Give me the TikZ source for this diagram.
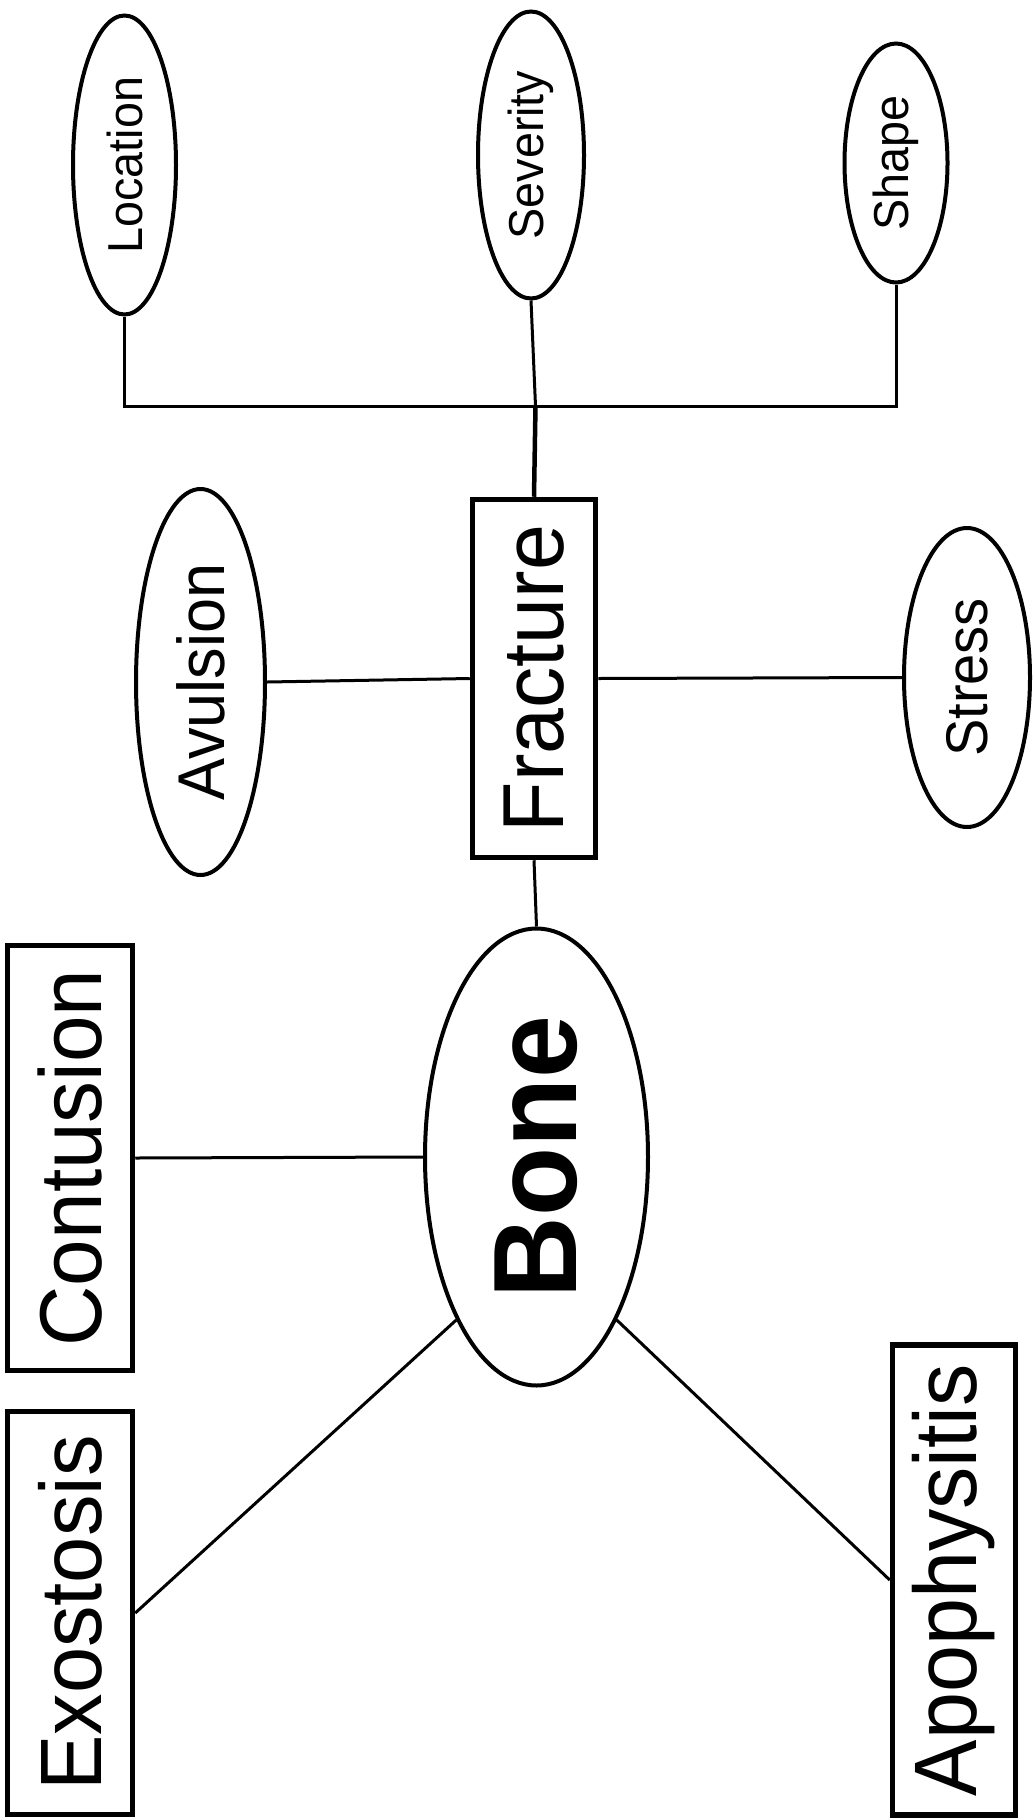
\documentclass[tikz,border=0pt]{standalone}
\usepackage{graphicx}
\usepackage{fontspec}
\setmainfont{Liberation Sans}
\usepackage{tikz}
\usetikzlibrary{shapes}

\newcommand{\uptext}[2]{\rotatebox{90}{\scalebox{1}[1.05]{\fontsize{#1}{#1}\selectfont #2}}}

\begin{document}
\begin{tikzpicture}[x=1pt,y=-1pt,
      oval/.style={ellipse,draw,line width=4pt,inner sep=0pt},
      box/.style={rectangle,draw,line width=5.5pt,inner sep=0pt},
      link/.style={line width=3pt}]
    \useasboundingbox (0,0) rectangle (1034,1820);

    % fracture and its attributes
    \node[oval,minimum width=103pt,minimum height=299pt] (location) at (124.5,165) {\uptext{46.7}{Location}};
    \node[oval,minimum width=106pt,minimum height=287pt] (severity) at (531,155) {\uptext{46.7}{Severity}};
    \node[oval,minimum width=103pt,minimum height=239pt] (shape) at (896,163) {\uptext{46.7}{Shape}};
    \node[box,minimum width=123pt,minimum height=358pt] (fracture) at (534,678.5) {\uptext{82.5}{Fracture}};
    \node[oval,minimum width=129pt,minimum height=386pt] (avulsion) at (200.5,682) {\uptext{63}{Avulsion}};
    \node[oval,minimum width=126pt,minimum height=299pt] (stress) at (967,677.5) {\uptext{56}{Stress}};

    % bone and the other injuries
    \node[oval,minimum width=223pt,minimum height=457pt] (bone) at (536.5,1157) {\uptext{113}{\bfseries Bone}};
    \node[box,minimum width=125pt,minimum height=425pt] (contusion) at (70,1158) {\uptext{83.7}{Contusion}};
    \node[box,minimum width=125pt,minimum height=403pt] (exostosis) at (70,1613) {\uptext{83}{Exostosis}};
    \node[box,minimum width=123pt,minimum height=470pt] (apophysitis) at (954,1580) {\uptext{84.5}{Apophysitis}};

    \coordinate (fork) at (535.5,406);
    \draw[link] (location.south) |- (fork) -| (shape.south);
    \draw[link] (severity.south) -- (fork);
    \draw[link,line width=4.5pt] (fork) -- (fracture.north);
    \draw[link] (avulsion.east) -- (fracture.west);
    \draw[link] (fracture.east) -- (stress.west);
    \draw[link] (fracture.south) -- (bone.north);
    \draw[link] (contusion.east) -- (bone.west);
    \draw[link] (bone.south west) -- (exostosis.east);
    \draw[link] (bone.south east) -- (apophysitis.west);

\end{tikzpicture}
\end{document}
